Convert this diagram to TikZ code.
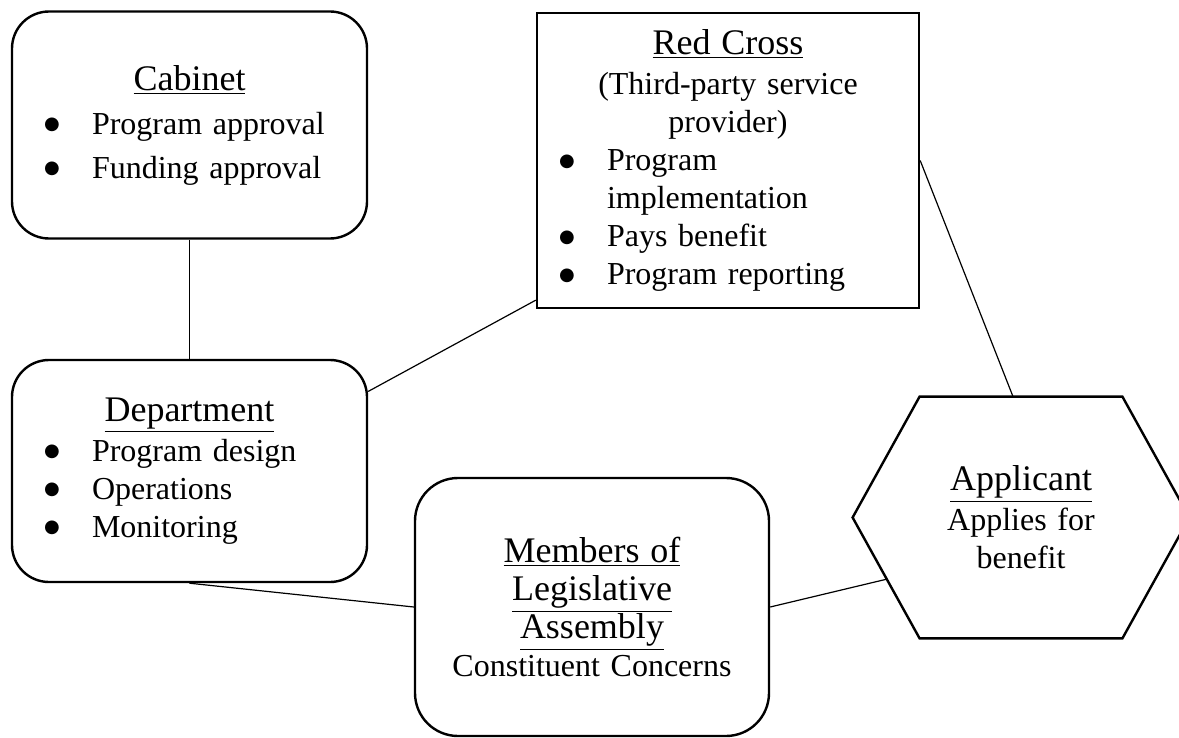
\documentclass[tikz,border=0pt]{standalone}
\usepackage{fontspec}
\setmainfont{Liberation Serif}
\newfontfamily\dotfont{DejaVu Sans}
\usetikzlibrary{calc}
\newcommand{\bigdot}{\raisebox{2.2pt}{\dotfont\fontsize{9}{19}\selectfont ●}}
\newcommand{\bulitem}[2][16pt]{\makebox[\hsize][l]{\hspace*{#1}\makebox[24pt][l]{\bigdot}#2}}
\newcommand{\moreitem}[2][16pt]{\makebox[\hsize][l]{\hspace*{#1}\hspace*{24pt}#2}}
\newcommand{\heading}[1]{{\fontsize{18}{20}\selectfont\underline{#1}}}
\begin{document}
\begin{tikzpicture}
  [x=0.5pt,y=-0.5pt,
  every node/.style={font=\fontsize{16}{19}\selectfont, inner sep=0pt},
  role/.style={draw, line width=1.2pt, align=center},
  link/.style={line width=0.6pt}]
\useasboundingbox (0,0) rectangle (1179,738);
\clip (0,0) rectangle (1179,738);
\node[role, rounded corners=18.5pt, text width=177.5pt, minimum height=113.5pt] (cab) at (189.5,125)
  {\heading{Cabinet}\\[3pt] \bulitem{Program approval}\\[3pt] \bulitem{Funding approval}};
\node[role, rounded corners=18.5pt, text width=177.5pt, minimum height=111pt] (dep) at (189.5,471)
  {\heading{Department}\\[1pt] \bulitem{Program design}\\ \bulitem{Operations}\\ \bulitem{Monitoring}};
\node[role, text width=191pt, minimum height=147.5pt] (rc) at (728,160.5)
  {\heading{Red Cross}\\[1pt] (Third-party service\\ provider)\\
   \bulitem[11pt]{Program}\\ \moreitem[11pt]{implementation}\\
   \bulitem[11pt]{Pays benefit}\\ \bulitem[11pt]{Program reporting}};
\node[role, rounded corners=21.5pt, text width=177pt, minimum height=129pt] (mla) at (592,607)
  {\heading{Members of}\\ \heading{Legislative}\\ \heading{Assembly}\\ Constituent Concerns};
% the applicant hexagon
\node[minimum width=168pt, minimum height=120.5pt, text width=100pt, align=center] (app) at (1021,517.5)
  {\heading{Applicant}\\[1pt] Applies for\\ benefit};
\draw[line width=1.2pt] (app.west) -- ([xshift=33.5pt]app.north west) -- ([xshift=-33.5pt]app.north east)
  -- (app.east) -- ([xshift=-33.5pt]app.south east) -- ([xshift=33.5pt]app.south west) -- cycle;
\coordinate (app-top) at ([xshift=-4pt]app.north);
\coordinate (app-sw) at ($(app.west)!0.51!([xshift=33.5pt]app.south west)$);
% links
\draw[link] (cab.south) -- (dep.north);
\draw[link] (dep.24) -- (rc.216);
\draw[link] (rc.east) -- (app-top);
\draw[link] (dep.south) -- (mla.west);
\draw[link] (mla.east) -- (app-sw);
\end{tikzpicture}
\end{document}
